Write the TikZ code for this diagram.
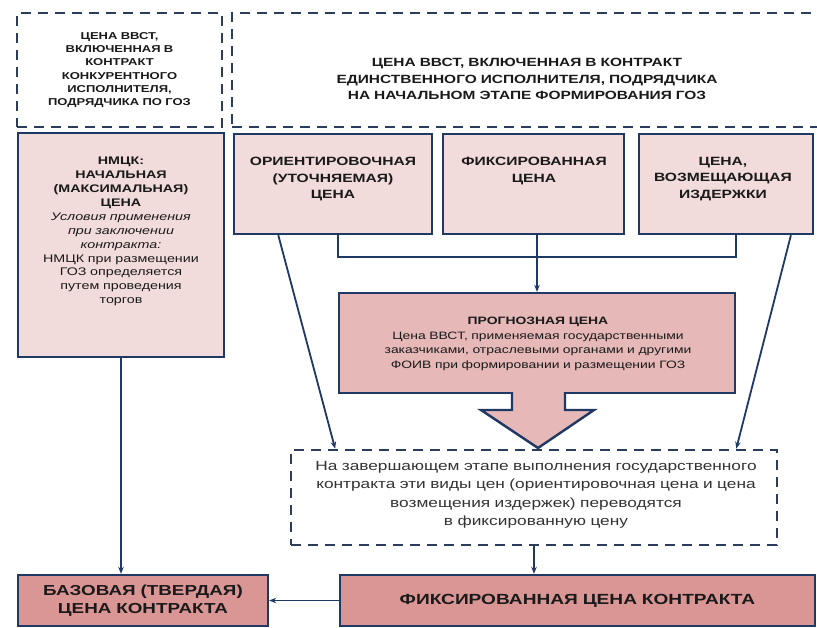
\documentclass[tikz,border=0pt]{standalone}
\usepackage{fontspec}
\setmainfont{Liberation Sans}[FakeStretch=1.3]
\usetikzlibrary{arrows.meta,calc}
\definecolor{edgec}{HTML}{1F3864}
\definecolor{dashc}{HTML}{2B3D5B}
\definecolor{pinkA}{HTML}{F2DCDB}
\definecolor{pinkB}{HTML}{E6B9B8}
\definecolor{pinkC}{HTML}{D99694}
\definecolor{ink}{HTML}{1A1A1A}
\definecolor{inkg}{HTML}{333333}
\begin{document}
\begin{tikzpicture}[x=1pt,y=-1pt,
  dbox/.style={draw=dashc,line width=2.6pt,dash pattern=on 10pt off 7pt,inner sep=0pt},
  sbox/.style={draw=edgec,line width=2.4pt,fill=#1,inner sep=0pt},
  conn/.style={draw=edgec,line width=1.8pt},
  arr/.style={conn,-{Stealth[length=7pt,width=5.5pt]}},
  txt/.style={align=center,text=ink,inner sep=0pt},
]
\useasboundingbox (0,0) rectangle (817,627);
\clip (0,0) rectangle (817,627);
\fill[white] (0,0) rectangle (817,627);

% top dashed boxes
\node[dbox,minimum width=205,minimum height=114,txt,text width=200,
  font=\bfseries\fontsize{10}{13.3}\selectfont] (tl) at (119.5,70)
  {ЦЕНА ВВСТ,\\ ВКЛЮЧЕННАЯ В\\ КОНТРАКТ\\ КОНКУРЕНТНОГО\\ ИСПОЛНИТЕЛЯ,\\ ПОДРЯДЧИКА ПО ГОЗ};
\node[dbox,minimum width=598,minimum height=114] (tr) at (531,70) {};
\node[txt,text width=500,font=\bfseries\fontsize{11.9}{16.5}\selectfont] (trt) at (527,79)
  {ЦЕНА ВВСТ, ВКЛЮЧЕННАЯ В КОНТРАКТ\\ ЕДИНСТВЕННОГО ИСПОЛНИТЕЛЯ, ПОДРЯДЧИКА\\ НА НАЧАЛЬНОМ ЭТАПЕ ФОРМИРОВАНИЯ ГОЗ};

% NMCK
\node[sbox=pinkA,minimum width=206,minimum height=224] (nmck) at (121,245) {};
\node[txt,anchor=north,text width=200,font=\fontsize{11}{13.9}\selectfont] (nmckt) at (121,157)
  {\bfseries НМЦК:\\ НАЧАЛЬНАЯ\\ (МАКСИМАЛЬНАЯ)\\ ЦЕНА\\
   \mdseries\itshape Условия применения\\ при заключении\\ контракта:\\
   \upshape НМЦК при размещении\\ ГОЗ определяется\\ путем проведения\\ торгов};

% three boxes
\node[sbox=pinkA,minimum width=198,minimum height=100] (b1) at (333,184) {};
\node[sbox=pinkA,minimum width=181,minimum height=100] (b2) at (533.5,184) {};
\node[sbox=pinkA,minimum width=174,minimum height=100] (b3) at (726,184) {};
\node[txt,anchor=north,text width=190,font=\bfseries\fontsize{12}{16.5}\selectfont] (b1t) at (333,157)
  {ОРИЕНТИРОВОЧНАЯ\\ (УТОЧНЯЕМАЯ)\\ ЦЕНА};
\node[txt,anchor=north,text width=175,font=\bfseries\fontsize{12}{16.5}\selectfont] (b2t) at (534,157)
  {ФИКСИРОВАННАЯ\\ ЦЕНА};
\node[txt,anchor=north,text width=170,font=\bfseries\fontsize{12}{16.5}\selectfont] (b3t) at (723,157)
  {ЦЕНА,\\ ВОЗМЕЩАЮЩАЯ\\ ИЗДЕРЖКИ};

% forecast box
\node[sbox=pinkB,minimum width=396,minimum height=100] (fc) at (537,343) {};
\node[txt,text width=390,font=\fontsize{10.7}{14.5}\selectfont] (fct) at (538,344)
  {\textbf{ПРОГНОЗНАЯ ЦЕНА}\\ Цена ВВСТ, применяемая государственными\\ заказчиками, отраслевыми органами и другими\\ ФОИВ при формировании и размещении ГОЗ};

% big arrow
\fill[pinkB] (512,391) -- (512,410) -- (481,410) -- (538,448) -- (594,410) -- (565,410) -- (565,391) -- cycle;
\draw[edgec,line width=2.4pt,line join=miter] (512,392) -- (512,410) -- (481,410) -- (538,448) -- (594,410) -- (565,410) -- (565,392);

% final dashed box
\node[dbox,minimum width=486,minimum height=95] (fin) at (534,497.5) {};
\node[txt,text=inkg,text width=480,font=\fontsize{13.3}{18.5}\selectfont] (fint) at (536,495)
  {На завершающем этапе выполнения государственного\\ контракта эти виды цен (ориентировочная цена и цена\\ возмещения издержек) переводятся\\ в фиксированную цену};

% bottom boxes
\node[sbox=pinkC,minimum width=250,minimum height=51,txt,text width=245,
  font=\bfseries\fontsize{14.5}{17.5}\selectfont] (base) at (143,600.5)
  {БАЗОВАЯ (ТВЕРДАЯ)\\ ЦЕНА КОНТРАКТА};
\node[sbox=pinkC,minimum width=475,minimum height=51,txt,text width=470,
  font=\bfseries\fontsize{14.7}{17.5}\selectfont] (fix) at (577.5,600.5)
  {ФИКСИРОВАННАЯ ЦЕНА КОНТРАКТА};

% connectors
\coordinate (j1) at (338,257);
\coordinate (j3) at (736,257);
\draw[conn] (b1.south -| j1) -- (j1) -- (j3) -- (b3.south -| j3);
\draw[arr] (b2.south -| fc.north) -- (fc.north);
\draw[arr] ($(b1.south west)!0.227!(b1.south east)$) -- ($(fin.north west)!0.093!(fin.north east)$);
\draw[arr] ($(b3.south west)!0.868!(b3.south east)$) -- ($(fin.north west)!0.914!(fin.north east)$);
\draw[arr] (nmck.south) -- (base.north -| nmck.south);
\draw[arr] (fin.south) -- (fix.north -| fin.south);
\draw[arr] (fix.west) -- (base.east);
\end{tikzpicture}
\end{document}
